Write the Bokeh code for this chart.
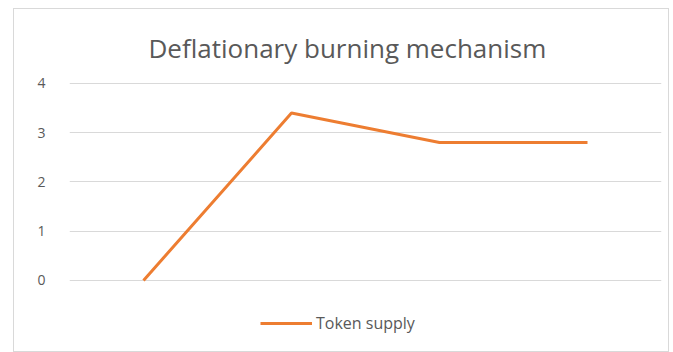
from bokeh.plotting import figure
from bokeh.models import Range1d, FactorRange, Legend, LegendItem, FixedTicker
from bokeh.embed import file_html
from bokeh.resources import INLINE

categories = ["1", "2", "3", "4"]
token_supply = [0, 3.4, 2.8, 2.8]
y_ticks = [0, 1, 2, 3, 4]

p = figure(width=656, height=344, x_range=FactorRange(*categories, range_padding=0),
           y_range=Range1d(-1.3, 4.02), output_backend="svg", toolbar_location=None,
           min_border_left=55, min_border_right=9, min_border_top=73, min_border_bottom=9,
           title="Deflationary burning mechanism")
p.margin = (8, 0, 0, 13)
p.styles = {"border": "1px solid #d9d9d9", "box-sizing": "border-box"}

p.title.align = "left"
p.title.offset = 79
p.title.text_font = "Open Sans"
p.title.text_font_size = "26px"
p.title.text_font_style = "normal"
p.title.text_color = "#595959"
p.title.standoff = 34

p.outline_line_color = None
p.xgrid.grid_line_color = None
p.ygrid.grid_line_color = "#d9d9d9"
p.ygrid.grid_line_width = 1
p.xaxis.visible = False
p.yaxis.ticker = FixedTicker(ticks=y_ticks)
p.yaxis.axis_line_color = None
p.yaxis.major_tick_line_color = None
p.yaxis.minor_tick_line_color = None
p.yaxis.major_label_text_color = "#595959"
p.yaxis.major_label_text_font = "Open Sans"
p.yaxis.major_label_text_font_size = "14px"
p.yaxis.major_label_standoff = 18

r = p.line(categories, token_supply, line_color="#ED7D31", line_width=3)

legend = Legend(items=[LegendItem(label="Token supply", renderers=[r])],
                location=(191, 10), orientation="horizontal",
                glyph_width=52, glyph_height=20, label_standoff=4,
                padding=0, margin=0, border_line_color=None,
                background_fill_alpha=0,
                label_text_font="Open Sans", label_text_font_size="16px",
                label_text_color="#595959")
p.add_layout(legend)

open("out.html", "w").write(file_html(p, INLINE))
